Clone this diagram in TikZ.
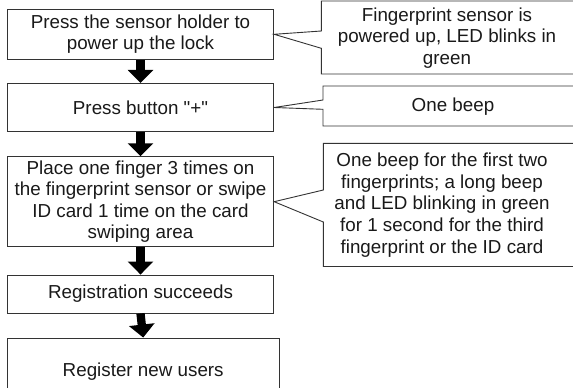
\documentclass[tikz,border=0pt]{standalone}
\usepackage{fontspec}
\newfontfamily\arialf{Liberation Sans}
\usetikzlibrary{arrows.meta}
\begin{document}
\begin{tikzpicture}[x=1pt,y=-1pt,
  txt/.style={font=\arialf\fontsize{18.8}{21.6}\selectfont, text=black!90, align=center},
  stepbox/.style={txt, draw=black!80, line width=0.9pt, inner sep=0pt},
  ctext/.style={txt, inner sep=0pt},
  frame/.style={draw=black!80, line width=0.9pt, line join=miter},
  bigarrow/.style={line width=8.3pt, black, -{Triangle[width=25pt,length=13pt]}}]
\useasboundingbox (0,0) rectangle (573,388);
% steps
\node[stepbox, minimum width=266.4pt, minimum height=50pt] (b1) at (140.5,34.3) {Press the sensor holder to\\power up the lock};
\node[stepbox, minimum width=266.4pt, minimum height=48.4pt] (b2) at (140.5,107.5) {Press button "+"};
\node[stepbox, minimum width=266.4pt, minimum height=90pt] (b3) at (140.5,201.7) {Place one finger 3 times on\\the fingerprint sensor or swipe\\ID card 1 time on the card\\swiping area};
\node[stepbox, minimum width=266.4pt, minimum height=38pt] (b4) at (140.5,294) {Registration succeeds};
\node[stepbox, minimum width=271.7pt, minimum height=67pt] (b5) at (143.2,371.5) {Register new users};
% arrows
\draw[bigarrow] (b1.south) -- (b2.north);
\draw[bigarrow] (b2.south) -- (b3.north);
\draw[bigarrow] (b3.south) -- (b4.north);
\draw[bigarrow] (b4.south) -- (b5.north);
% callout texts
\node[ctext] (c1) at (447,38) {Fingerprint sensor is\\powered up, LED blinks in\\green};
\node[ctext] (c2) at (453,106.5) {One beep};
\node[ctext] (c3) at (442,205) {One beep for the first two\\fingerprints; a long beep\\and LED blinking in green\\for 1 second for the third\\fingerprint or the ID card};
% callout frames
\draw[frame] (b1.east) -- (321.3,31) -- (321.3,1) -- (590,1) -- (590,74) -- (321.3,74) -- (321.3,48.3) -- cycle;
\draw[frame] (b2.east) -- (323,100) -- (323,86) -- (590,86) -- (590,126) -- (323,126) -- (323,109.3) -- cycle;
\draw[frame] (b3.east) -- (323.3,190) -- (323.3,143.3) -- (590,143.3) -- (590,266.5) -- (323.3,266.5) -- (323.3,222) -- cycle;
\end{tikzpicture}
\end{document}
